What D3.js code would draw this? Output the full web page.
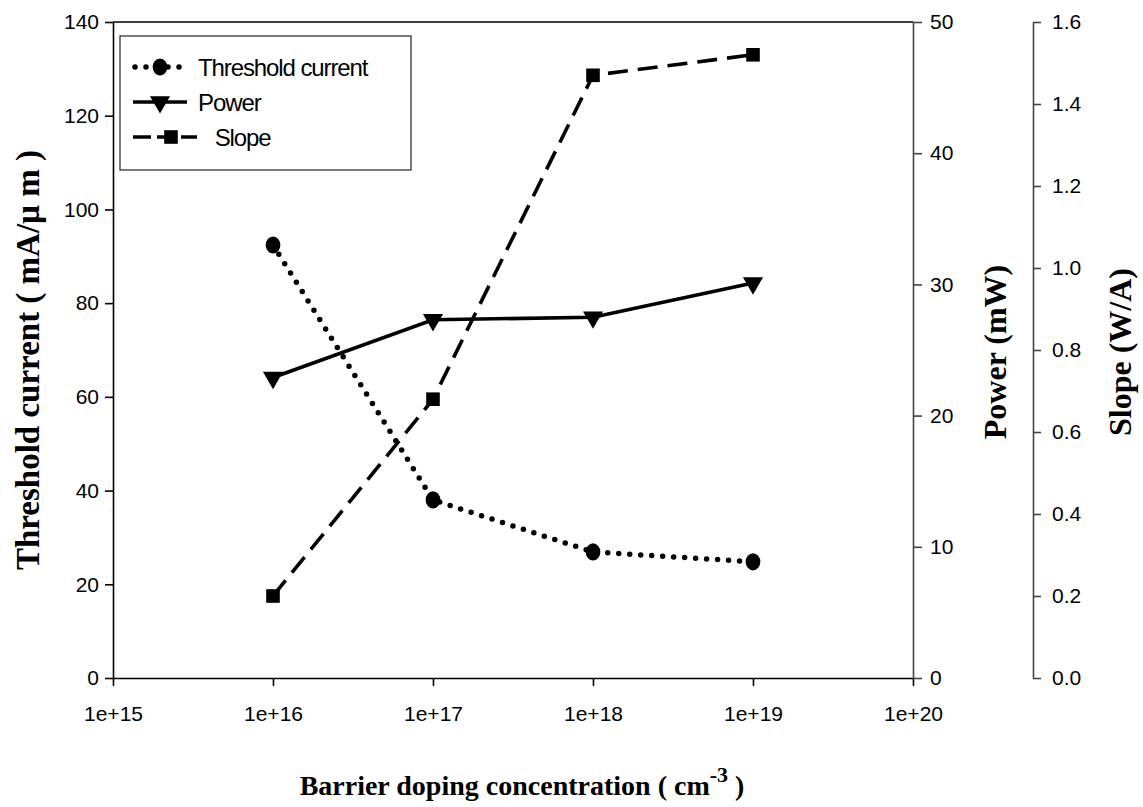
<!DOCTYPE html>
<html>
<head>
<meta charset="utf-8">
<script src="https://cdn.jsdelivr.net/npm/d3@7"></script>
<style>
  html, body { margin: 0; padding: 0; background: #fff; }
  svg { display: block; }
  .tick text { font-family: "Liberation Sans", Arial, sans-serif; font-size: 21px; fill: #000; }
  .title { font-family: "Liberation Serif", "Times New Roman", serif; font-weight: bold; fill: #000; }
  .legend text { font-family: "Liberation Sans", Arial, sans-serif; font-size: 24px; letter-spacing: -1.1px; fill: #000; }
</style>
</head>
<body>
<svg id="chart" width="1143" height="807"></svg>
<script>
// Barrier doping concentration (cm^-3)
const doping = [1e16, 1e17, 1e18, 1e19];
// Threshold current (mA/µm)
const thresholdCurrent = [92.4, 38.0, 26.9, 24.8];
// Output power (mW)
const power = [22.9, 27.3, 27.5, 30.1];
// Slope efficiency (W/A)
const slope = [0.20, 0.68, 1.47, 1.52];

const xTicks = [1e15, 1e16, 1e17, 1e18, 1e19, 1e20];
const leftTicks = [0, 20, 40, 60, 80, 100, 120, 140];
const powerTicks = [0, 10, 20, 30, 40, 50];
const slopeTicks = [0, 0.2, 0.4, 0.6, 0.8, 1.0, 1.2, 1.4, 1.6];

const legendItems = ["Threshold current", "Power", "   Slope"];

const svg = d3.select("#chart");

const plot = { left: 113, right: 913, top: 22, bottom: 678 };
const slopeAxisX = 1033;

const x = d3.scaleLog().domain([1e15, 1e20]).range([plot.left, plot.right]);
const yL = d3.scaleLinear().domain([0, 140]).range([plot.bottom, plot.top]);
const yP = d3.scaleLinear().domain([0, 50]).range([plot.bottom, plot.top]);
const yS = d3.scaleLinear().domain([0, 1.6]).range([plot.bottom, plot.top]);

// top frame line
svg.append("line")
  .attr("x1", plot.left).attr("x2", plot.right)
  .attr("y1", plot.top).attr("y2", plot.top)
  .attr("stroke", "#000").attr("stroke-width", 1.6);

// x axis
const gx = svg.append("g")
  .attr("transform", `translate(0,${plot.bottom})`)
  .call(d3.axisBottom(x).tickValues(xTicks).tickSize(8).tickSizeOuter(0).tickPadding(20)
    .tickFormat(d => "1e+" + Math.round(Math.log10(d))));

// left axis
const gl = svg.append("g")
  .attr("transform", `translate(${plot.left},0)`)
  .call(d3.axisLeft(yL).tickValues(leftTicks).tickSize(8).tickSizeOuter(0).tickPadding(6));

// power axis
const gp = svg.append("g")
  .attr("transform", `translate(${plot.right},0)`)
  .call(d3.axisRight(yP).tickValues(powerTicks).tickSize(9).tickSizeOuter(0).tickPadding(8));

// slope axis
const gs = svg.append("g")
  .attr("transform", `translate(${slopeAxisX},0)`)
  .call(d3.axisRight(yS).tickValues(slopeTicks).tickSize(8).tickSizeOuter(0).tickPadding(11)
    .tickFormat(d3.format(".1f")));

[gx, gl].forEach(g => {
  g.select(".domain").attr("stroke", "#000").attr("stroke-width", 1.6);
  g.selectAll(".tick line").attr("stroke", "#000").attr("stroke-width", 1.6);
});
[gp, gs].forEach(g => {
  g.select(".domain").attr("stroke", "#444").attr("stroke-width", 1.6);
  g.selectAll(".tick line").attr("stroke", "#444").attr("stroke-width", 1.6);
});
svg.selectAll(".tick text").attr("font-family", null).attr("font-size", null);

// axis titles
svg.append("text").attr("class", "title")
  .attr("font-size", 33)
  .attr("transform", `translate(39,360) rotate(-90)`)
  .attr("text-anchor", "middle")
  .text("Threshold current ( mA/µ m )");

svg.append("text").attr("class", "title")
  .attr("font-size", 32)
  .attr("transform", `translate(1006,352) rotate(-90)`)
  .attr("text-anchor", "middle")
  .text("Power (mW)");

svg.append("text").attr("class", "title")
  .attr("font-size", 32)
  .attr("transform", `translate(1131,352) rotate(-90)`)
  .attr("text-anchor", "middle")
  .text("Slope (W/A)");

const xt = svg.append("text").attr("class", "title")
  .attr("font-size", 28)
  .attr("x", 522).attr("y", 795)
  .attr("text-anchor", "middle");
xt.append("tspan").text("Barrier doping concentration  ( cm");
xt.append("tspan").attr("dy", -13).attr("font-size", 22).text("-3");
xt.append("tspan").attr("dy", 13).text(" )");

// series
const lineL = d3.line().x((d, i) => x(doping[i])).y(d => yL(d));
const lineP = d3.line().x((d, i) => x(doping[i])).y(d => yP(d));
const lineS = d3.line().x((d, i) => x(doping[i])).y(d => yS(d));

svg.append("path").attr("d", lineL(thresholdCurrent))
  .attr("fill", "none").attr("stroke", "#000").attr("stroke-width", 5.5)
  .attr("stroke-linecap", "round").attr("stroke-dasharray", "0 11");

svg.append("path").attr("d", lineP(power))
  .attr("fill", "none").attr("stroke", "#000").attr("stroke-width", 3.6);

svg.append("path").attr("d", lineS(slope))
  .attr("fill", "none").attr("stroke", "#000").attr("stroke-width", 3.6)
  .attr("stroke-dasharray", "20 10");

const circleSym = d3.symbol().type(d3.symbolCircle).size(210);
const triSym = d3.symbol().type(d3.symbolTriangle).size(175);
const sqSym = d3.symbol().type(d3.symbolSquare).size(185);

svg.selectAll(".mk-th").data(thresholdCurrent).join("path")
  .attr("d", circleSym)
  .attr("transform", (d, i) => `translate(${x(doping[i])},${yL(d)}) scale(0.9,1.05)`)
  .attr("fill", "#000");

svg.selectAll(".mk-pw").data(power).join("path")
  .attr("d", triSym)
  .attr("transform", (d, i) => `translate(${x(doping[i])},${yP(d)}) rotate(180)`)
  .attr("fill", "#000");

svg.selectAll(".mk-sl").data(slope).join("path")
  .attr("d", sqSym)
  .attr("transform", (d, i) => `translate(${x(doping[i])},${yS(d)})`)
  .attr("fill", "#000");

// legend
const lg = svg.append("g").attr("class", "legend");
lg.append("rect")
  .attr("x", 120).attr("y", 36).attr("width", 291).attr("height", 134)
  .attr("fill", "#fff").attr("stroke", "#333").attr("stroke-width", 1.3);

const rowY = [67, 102, 137];
// threshold sample
lg.append("line").attr("x1", 135).attr("x2", 182).attr("y1", rowY[0]).attr("y2", rowY[0])
  .attr("stroke", "#000").attr("stroke-width", 5.5).attr("stroke-linecap", "round")
  .attr("stroke-dasharray", "0 11");
lg.append("path").attr("d", circleSym).attr("fill", "#000")
  .attr("transform", `translate(160,${rowY[0]}) scale(0.9,1.05)`);
// power sample
lg.append("line").attr("x1", 133).attr("x2", 187).attr("y1", rowY[1]).attr("y2", rowY[1])
  .attr("stroke", "#000").attr("stroke-width", 3.6);
lg.append("path").attr("d", triSym).attr("fill", "#000")
  .attr("transform", `translate(160,${rowY[1]}) rotate(180)`);
// slope sample
lg.append("line").attr("x1", 133).attr("x2", 197).attr("y1", rowY[2]).attr("y2", rowY[2])
  .attr("stroke", "#000").attr("stroke-width", 3.6).attr("stroke-dasharray", "18 6");
lg.append("path").attr("d", sqSym).attr("fill", "#000")
  .attr("transform", `translate(171,${rowY[2]})`);

lg.selectAll("text.item").data(legendItems).join("text")
  .attr("class", "item")
  .attr("x", 198).attr("y", (d, i) => rowY[i] + 9)
  .attr("xml:space", "preserve")
  .style("white-space", "pre")
  .text(d => d);
</script>
</body>
</html>
